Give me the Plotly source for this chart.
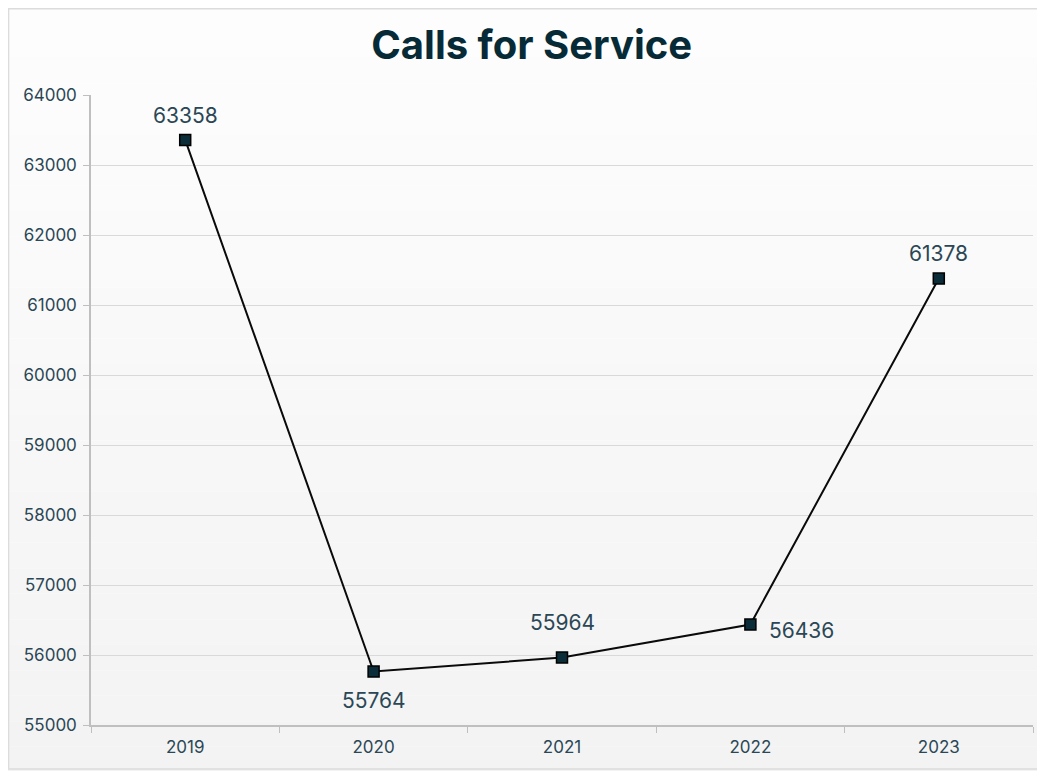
import plotly.graph_objects as go

years = ["2019", "2020", "2021", "2022", "2023"]
calls = [63358, 55764, 55964, 56436, 61378]
y_ticks = [55000, 56000, 57000, 58000, 59000, 60000, 61000, 62000, 63000, 64000]
y_tick_labels = [str(v) for v in y_ticks]
# label placement relative to each point (pixels)
label_xshift = [0, 0, 0, 17, 0]
label_yshift = [24, -29, 35, -6, 25]
label_xanchor = ["center", "center", "center", "left", "center"]

TXT = "#2b4756"
FONT = "Inter, Open Sans, sans-serif"

fig = go.Figure()
fig.add_trace(go.Scatter(
    x=years, y=calls, mode="lines+markers",
    line=dict(color="#0a0a0a", width=2),
    marker=dict(symbol="square", size=11, color="#0b2d3a", line=dict(color="#000000", width=1.5)),
    cliponaxis=False, showlegend=False,
))

annotations = []
for i, (v, xs, ys, xa) in enumerate(zip(calls, label_xshift, label_yshift, label_xanchor)):
    annotations.append(dict(x=i, y=v, xref="x", yref="y", text=str(v), showarrow=False,
                            xshift=xs, yshift=ys, xanchor=xa, yanchor="middle",
                            font=dict(family=FONT, size=21, color=TXT)))

# subtle vertical background gradient (white to light grey)
shapes = []
n = 30
y_top, y_bot = 1.14, -0.075
x_l, x_r = -0.09, 1.013
for i in range(n):
    t = i / (n - 1)
    c = int(round(253 - (253 - 243) * t))
    ya = y_top - (y_top - y_bot) * i / n
    yb = y_top - (y_top - y_bot) * (i + 1) / n
    shapes.append(dict(type="rect", xref="paper", yref="paper", x0=x_l, x1=x_r,
                       y0=yb, y1=ya, fillcolor=f"rgb({c},{c},{c})", line=dict(width=0), layer="below"))
shapes.append(dict(type="rect", xref="paper", yref="paper", x0=-0.0875, x1=1.0074,
                   y0=-0.0698, y1=1.137, fillcolor="rgba(0,0,0,0)", line=dict(color="#dcdcdc", width=1.5), layer="below"))

fig.update_layout(
    width=1037, height=763,
    margin=dict(l=83, r=12, t=87, b=46),
    paper_bgcolor="#ffffff", plot_bgcolor="rgba(0,0,0,0)",
    title=dict(text="<b>Calls for Service</b>", x=0.505, xanchor="center", y=0.9515, yanchor="middle",
               font=dict(family="Inter, Lato, sans-serif", size=40, color="#062a36", weight=900)),
    shapes=shapes, annotations=annotations,
    xaxis=dict(type="category", range=[-0.5, 4.5], showgrid=False, showline=True, linecolor="#bfbfbf", linewidth=1.5,
               ticks="outside", tickson="boundaries", ticklen=6, tickcolor="#bfbfbf", ticklabelstandoff=6,
               tickfont=dict(family=FONT, size=17, color=TXT)),
    yaxis=dict(range=[55000, 64000], tickvals=y_ticks, ticktext=y_tick_labels, showgrid=True,
               gridcolor="#d9d9d9", gridwidth=1,
               showline=True, linecolor="#bfbfbf", linewidth=1.5, ticks="outside", ticklen=6, tickcolor="#bfbfbf",
               ticklabelstandoff=3, zeroline=False,
               tickfont=dict(family=FONT, size=17, color=TXT)),
)

fig.write_html("out.html")
